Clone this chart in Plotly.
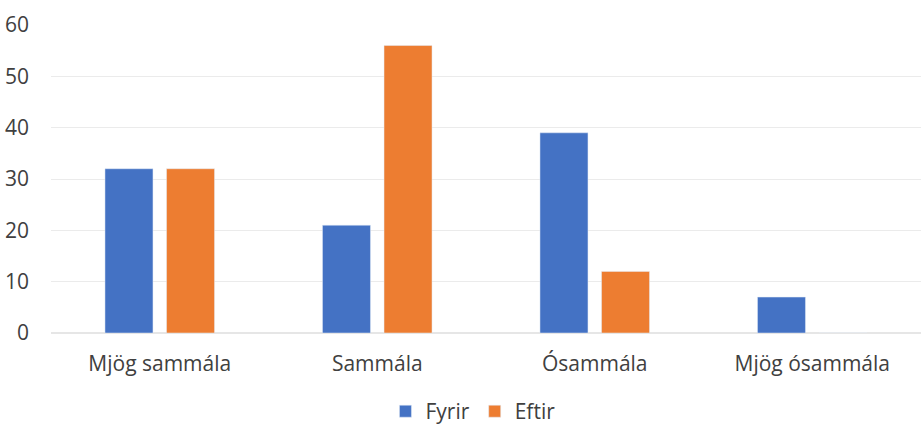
import plotly.graph_objects as go

categories = ["Mjög sammála", "Sammála", "Ósammála", "Mjög ósammála"]
fyrir = [32, 21, 39, 7]
eftir = [32, 56, 12, 0]
y_ticks = [0, 10, 20, 30, 40, 50, 60]

font_family = "Open Sans, Liberation Sans, sans-serif"
text_color = "#404040"
fs = 21

fig = go.Figure()
fig.add_trace(go.Bar(name="Fyrir", x=categories, y=fyrir, marker_color="#4472C4"))
fig.add_trace(go.Bar(name="Eftir", x=categories, y=eftir, marker_color="#ED7D31"))

fig.update_layout(
    width=922, height=428,
    margin=dict(l=51, r=1, t=25, b=95, autoexpand=False),
    paper_bgcolor="white", plot_bgcolor="white",
    barmode="group", bargap=0.434, bargroupgap=0.22,
    font=dict(family=font_family, size=fs, color=text_color),
    showlegend=True,
    legend=dict(orientation="h", x=0.485, xanchor="center", y=-0.255, yanchor="middle",
                font=dict(size=fs, color=text_color), itemwidth=30, traceorder="normal"),
)
fig.update_xaxes(showgrid=False, showline=False, ticks="", automargin=False,
                 tickfont=dict(size=fs, color=text_color), ticklabelstandoff=16)
fig.update_yaxes(range=[0, 60], tickvals=y_ticks, showgrid=True, gridcolor="#ebebeb", gridwidth=1,
                 zeroline=True, zerolinecolor="#e6e6e6", showline=False, automargin=False,
                 tickfont=dict(size=fs, color=text_color), ticklabelstandoff=21)

fig.write_html("out.html", config={"displayModeBar": False},
               post_script="document.body.style.margin='0';document.body.style.overflow='hidden';")
